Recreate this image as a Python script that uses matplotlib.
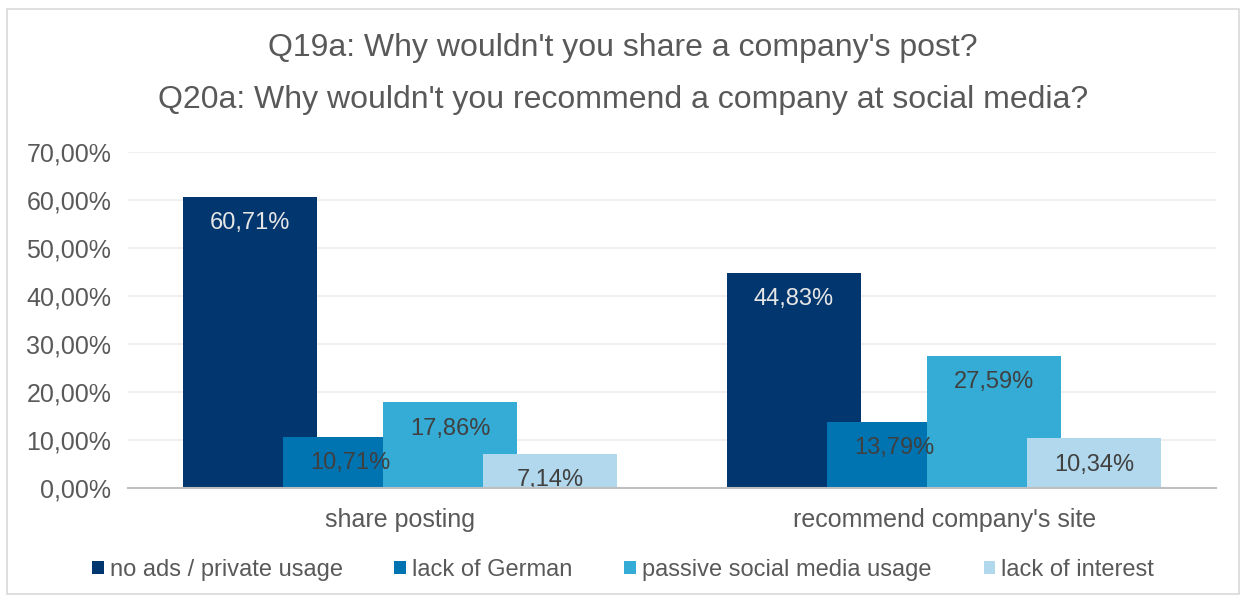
import numpy as np
import matplotlib.pyplot as plt
from matplotlib.patches import Rectangle

plt.rcParams['font.family'] = ['Liberation Sans', 'DejaVu Sans']

categories = ["share posting", "recommend company's site"]
series_names = ["no ads / private usage", "lack of German",
                "passive social media usage", "lack of interest"]
values = [
    [60.71, 44.83],
    [10.71, 13.79],
    [17.86, 27.59],
    [7.14, 10.34],
]
colors = ["#02366e", "#0073b1", "#35acd6", "#b1d8ec"]
label_colors = ["#e6e6e6", "#404040", "#404040", "#404040"]

fig = plt.figure(figsize=(12.46, 5.96), dpi=100)
ax = fig.add_axes([0.1027, 0.181, 0.8733, 0.564])

# chart border
fig.patches.append(Rectangle((0.006, 0.003), 0.988, 0.982, transform=fig.transFigure,
                             fill=False, edgecolor="#d9d9d9", linewidth=1.2))

x = np.arange(len(categories))
step = 0.184
width = 0.246
for i, (name, vals) in enumerate(zip(series_names, values)):
    pos = x + (i - 1.5) * step
    ax.bar(pos, vals, width, color=colors[i], label=name, zorder=2 + i)

for i, vals in enumerate(values):
    pos = x + (i - 1.5) * step
    for p, v in zip(pos, vals):
        ax.annotate(f"{v:.2f}%".replace(".", ","), (p, v), xytext=(0, -11),
                    textcoords="offset points", ha="center", va="top",
                    fontsize=17, color=label_colors[i], zorder=10)

ax.set_ylim(0, 70)
ax.set_xlim(-0.5, 1.5)
ax.set_yticks(np.arange(0, 71, 10))
ax.set_yticklabels([f"{t:.2f}%".replace(".", ",") for t in np.arange(0, 71, 10)],
                   fontsize=18, color="#595959")
ax.set_xticks(x)
ax.set_xticklabels(categories, fontsize=18, color="#595959")
ax.tick_params(axis="both", length=0)
ax.tick_params(axis="y", pad=12)
ax.tick_params(axis="x", pad=14)
ax.grid(axis="y", color="#eeeeee", linewidth=1.2, zorder=0)
ax.set_axisbelow(True)
for s in ["top", "right", "left"]:
    ax.spines[s].set_visible(False)
ax.spines["bottom"].set_color("#bfbfbf")
ax.spines["bottom"].set_linewidth(1.5)
ax.spines["bottom"].set_zorder(20)

fig.text(0.5, 0.919, "Q19a: Why wouldn't you share a company's post?",
         ha="center", va="center", fontsize=23, color="#595959")
fig.text(0.5, 0.832, "Q20a: Why wouldn't you recommend a company at social media?",
         ha="center", va="center", fontsize=23, color="#595959")

leg = fig.legend(loc="center", bbox_to_anchor=(0.5, 0.044), ncol=4, frameon=False,
                 handlelength=0.5, handleheight=0.5, handletextpad=0.25,
                 columnspacing=2.2, prop={"size": 17})
for t in leg.get_texts():
    t.set_color("#595959")

fig.savefig("out.png", dpi=100)
